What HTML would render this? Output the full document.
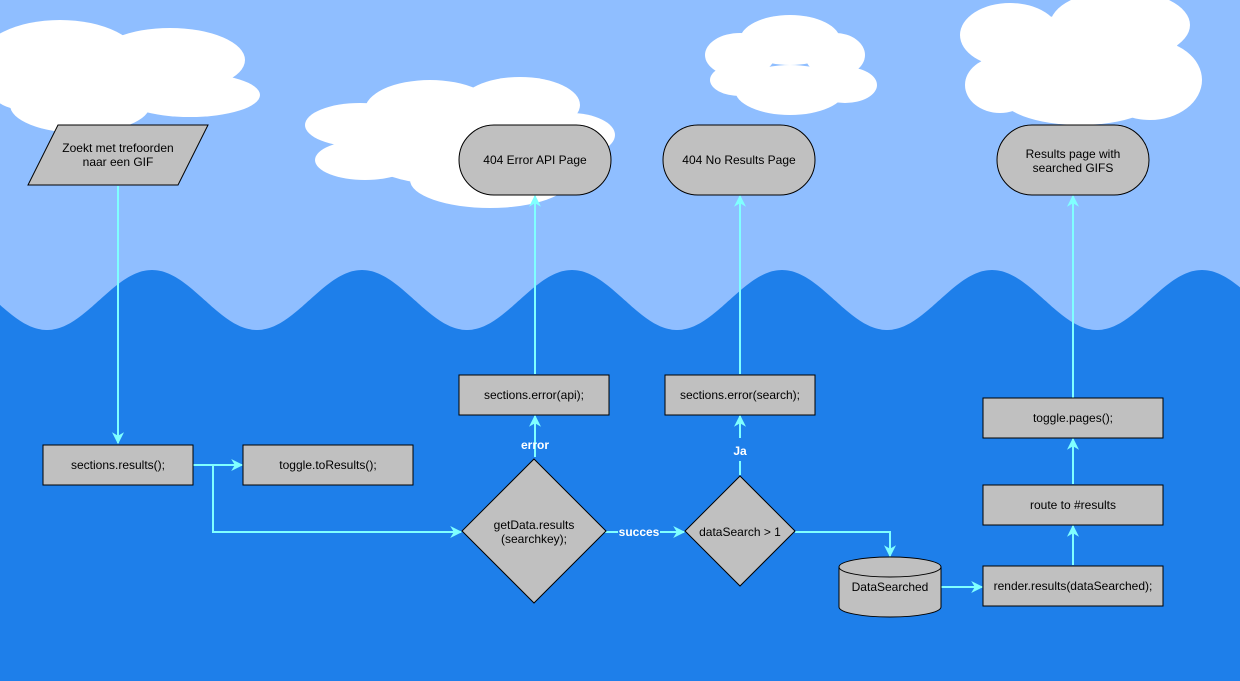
<!DOCTYPE html>
<html><head><meta charset="utf-8"><style>
html,body{margin:0;padding:0;background:#8fbeff;}
svg{display:block;font-family:"Liberation Sans",Arial,sans-serif;}
</style></head><body>
<svg width="1240" height="681" viewBox="0 0 1240 681" xmlns="http://www.w3.org/2000/svg">
<defs>
<marker id="a" viewBox="0 0 10 10" refX="9" refY="5" markerWidth="12" markerHeight="12" orient="auto-start-reverse" markerUnits="userSpaceOnUse" style="overflow:visible">
<path d="M0,0 L10,5 L0,10 L3,5 z" fill="#80ffff"/>
</marker>
</defs>
<rect width="1240" height="681" fill="#8fbeff"/>
<path id="wave" fill="#1e7fea" d="" />
<script>
(function(){var d="M0,681 L0,"+(300-30*Math.cos(2*Math.PI*(0-152)/210)).toFixed(1);
for(var x=2;x<=1240;x+=2){d+=" L"+x+","+(300-30*Math.cos(2*Math.PI*(x-152)/210)).toFixed(1);}
d+=" L1240,681 Z";document.getElementById("wave").setAttribute("d",d);})();
</script>
<g fill="#fff">
<ellipse cx="60" cy="60" rx="80" ry="40"/><ellipse cx="170" cy="60" rx="75" ry="32"/><ellipse cx="190" cy="95" rx="70" ry="22"/><ellipse cx="80" cy="105" rx="70" ry="28"/><ellipse cx="25" cy="80" rx="40" ry="30"/>
<ellipse cx="360" cy="125" rx="55" ry="22"/><ellipse cx="430" cy="110" rx="65" ry="30"/><ellipse cx="520" cy="105" rx="60" ry="28"/><ellipse cx="570" cy="135" rx="45" ry="22"/><ellipse cx="490" cy="180" rx="80" ry="28"/><ellipse cx="365" cy="160" rx="50" ry="20"/><ellipse cx="450" cy="150" rx="90" ry="35"/>
<ellipse cx="740" cy="55" rx="35" ry="22"/><ellipse cx="790" cy="40" rx="50" ry="25"/><ellipse cx="835" cy="55" rx="30" ry="22"/><ellipse cx="845" cy="85" rx="32" ry="18"/><ellipse cx="790" cy="90" rx="55" ry="25"/><ellipse cx="740" cy="80" rx="30" ry="16"/>
<ellipse cx="1010" cy="35" rx="50" ry="32"/><ellipse cx="1120" cy="25" rx="70" ry="35"/><ellipse cx="1150" cy="80" rx="52" ry="40"/><ellipse cx="1080" cy="95" rx="80" ry="30"/><ellipse cx="1000" cy="85" rx="35" ry="28"/><ellipse cx="1080" cy="55" rx="100" ry="40"/>
</g>
<g stroke="#80ffff" stroke-width="2" fill="none">
<path d="M118,186 V443" marker-end="url(#a)"/>
<path d="M193,465 H242" marker-end="url(#a)"/>
<path d="M213,465 V532 H461" marker-end="url(#a)"/>
<path d="M535,457 V416" marker-end="url(#a)"/>
<path d="M535,374 V196" marker-end="url(#a)"/>
<path d="M605,532 H618 M660,532 H684" marker-end="url(#a)"/>
<path d="M740,475 V461 M740,438 V416" marker-end="url(#a)"/>
<path d="M740,374 V196" marker-end="url(#a)"/>
<path d="M795,532 H890 V556" marker-end="url(#a)"/>
<path d="M940,587 H982" marker-end="url(#a)"/>
<path d="M1073,565 V526" marker-end="url(#a)"/>
<path d="M1073,484 V439" marker-end="url(#a)"/>
<path d="M1073,398 V196" marker-end="url(#a)"/>
</g>
<g fill="#c0c0c0" stroke="#000" stroke-width="1">
<polygon points="58,125 208,125 178,185 28,185"/>
<rect x="43" y="445" width="150" height="40"/>
<rect x="243" y="445" width="170" height="40"/>
<rect x="459" y="375" width="150" height="40"/>
<rect x="665" y="375" width="150" height="40"/>
<rect x="983" y="398" width="180" height="40"/>
<rect x="983" y="485" width="180" height="40"/>
<rect x="983" y="566" width="180" height="40"/>
<rect x="459" y="125" width="152" height="70" rx="35"/>
<rect x="663" y="125" width="152" height="70" rx="35"/>
<rect x="997" y="125" width="152" height="70" rx="35"/>
<polygon points="534,459 606,531 534,603 462,531"/>
<polygon points="740,476 795,531 740,586 685,531"/>
<path d="M839,567 V607 A51,10 0 0 0 941,607 V567 A51,10 0 0 0 839,567 Z"/>
<path d="M839,567 A51,10 0 0 0 941,567" fill="none"/>
</g>
<g font-size="12" fill="#000" text-anchor="middle">
<text x="118" y="152">Zoekt met trefoorden</text><text x="118" y="166">naar een GIF</text>
<text x="118" y="469">sections.results();</text>
<text x="328" y="469">toggle.toResults();</text>
<text x="534" y="399">sections.error(api);</text>
<text x="740" y="399">sections.error(search);</text>
<text x="1073" y="422">toggle.pages();</text>
<text x="1073" y="509">route to #results</text>
<text x="1073" y="590">render.results(dataSearched);</text>
<text x="535" y="164">404 Error API Page</text>
<text x="739" y="164">404 No Results Page</text>
<text x="1073" y="158">Results page with</text><text x="1073" y="172">searched GIFS</text>
<text x="534" y="529">getData.results</text><text x="534" y="543">(searchkey);</text>
<text x="740" y="536">dataSearch &gt; 1</text>
<text x="890" y="591">DataSearched</text>
</g>
<g font-size="12" font-weight="bold" fill="#fff" text-anchor="middle">
<text x="535" y="449">error</text>
<text x="639" y="536">succes</text>
<text x="740" y="455">Ja</text>
</g>
</svg>
</body></html>
